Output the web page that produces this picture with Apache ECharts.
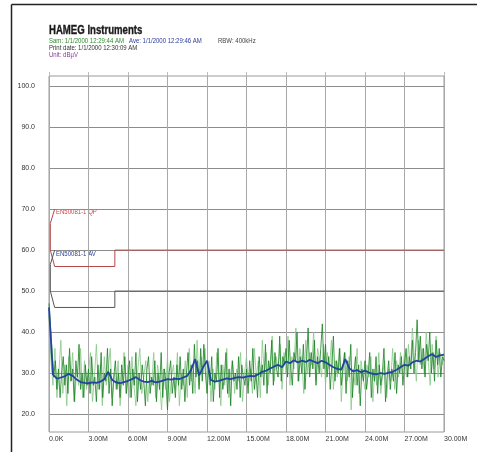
<!DOCTYPE html>
<html>
<head>
<meta charset="utf-8">
<script src="https://cdn.jsdelivr.net/npm/echarts@6/dist/echarts.min.js"></script>
<style>
html,body{margin:0;padding:0;background:#fff;}
#chart{width:477px;height:470px;}
</style>
</head>
<body>
<div id="chart"></div>
<script>
// 频率轴刻度 (MHz)
var xTicks = [0, 3, 6, 9, 12, 15, 18, 21, 24, 27, 30];
var xTickLabels = ['0.0K', '3.00M', '6.00M', '9.00M', '12.00M', '15.00M', '18.00M', '21.00M', '24.00M', '27.00M', '30.00M'];
var yTicks = [20, 30, 40, 50, 60, 70, 80, 90, 100];
var yTickLabels = ['20.0', '30.0', '40.0', '50.0', '60.0', '70.0', '80.0', '90.0', '100.0'];

// 采样迹线 (Sam), 步长 0.12 MHz
var samStep = 0.12;
var samValues = [
  47, 41, 35, 29, 33, 26, 31, 24, 30, 34, 27, 32, 25, 36, 28, 31, 23, 33, 29, 37, 26, 30, 24, 32, 27,
  31, 25, 34, 27, 29, 23, 32, 26, 35, 24, 30, 28, 36, 25, 31, 22, 29, 33, 26, 30, 24, 32, 27, 34, 25,
  29, 33, 24, 31, 27, 35, 23, 30, 26, 32, 28, 22, 31, 34, 25, 29, 27, 33, 23, 30, 26, 35, 24, 31, 28,
  21, 30, 33, 25, 29, 24, 32, 27, 34, 26, 31, 23, 30, 35, 27, 32, 25, 37, 29, 33, 26, 36, 28, 37, 30,
  25, 31, 27, 34, 23, 30, 28, 36, 24, 32, 26, 29, 35, 25, 31, 22, 33, 28, 30, 26, 34, 24, 32, 29, 27,
  31, 25, 33, 28, 36, 26, 30, 24, 34, 29, 32, 27, 37, 25, 33, 30, 38, 27, 35, 31, 29, 39, 28, 34, 32,
  36, 29, 38, 31, 27, 35, 33, 40, 28, 34, 30, 37, 26, 33, 41, 29, 35, 31, 38, 27, 34, 30, 36, 42, 31,
  37, 29, 34, 26, 32, 39, 28, 33, 30, 36, 27, 31, 35, 25, 33, 29, 37, 24, 30, 34, 27, 32, 22, 31, 28,
  33, 26, 30, 35, 24, 31, 28, 34, 25, 32, 27, 30, 36, 23, 29, 33, 26, 31, 28, 35, 25, 32, 30, 34, 27,
  32, 36, 29, 34, 31, 38, 30, 35, 43, 33, 39, 31, 36, 29, 37, 33, 40, 30, 35, 28, 38, 32, 36, 29, 34,
  33
];

// 采样迹线浅色部分, 步长 0.15 MHz
var samLightStep = 0.15;
var samLightValues = [
  44, 33, 27, 36, 24, 30, 38, 25, 32, 22, 34, 28, 35, 23, 31, 27, 36, 24, 33, 26,
  30, 35, 23, 29, 37, 26, 32, 22, 34, 27, 31, 36, 24, 30, 26, 33, 22, 29, 35, 25,
  32, 24, 34, 27, 22, 31, 36, 25, 29, 33, 23, 30, 27, 35, 24, 32, 28, 21, 31, 26,
  34, 23, 29, 32, 26, 35, 22, 30, 27, 33, 24, 36, 28, 31, 25, 38, 27, 34, 30, 36,
  27, 33, 23, 31, 26, 35, 29, 22, 32, 27, 36, 24, 30, 33, 25, 31, 28, 35, 23, 30,
  34, 27, 31, 25, 36, 29, 33, 24, 38, 30, 35, 27, 32, 39, 28, 34, 31, 37, 26, 35,
  30, 39, 27, 34, 31, 41, 28, 36, 33, 25, 38, 30, 35, 32, 40, 28, 36, 33, 29, 37,
  27, 35, 31, 38, 26, 33, 29, 36, 23, 32, 35, 28, 34, 21, 31, 27, 36, 25, 33, 29,
  26, 32, 29, 34, 23, 31, 27, 35, 25, 30, 33, 24, 31, 28, 36, 26, 33, 29, 35, 30,
  35, 29, 37, 31, 41, 34, 28, 38, 32, 36, 30, 40, 33, 27, 37, 31, 39, 29, 35, 32,
  34
];

// 平均迹线 (Ave), 步长 0.3 MHz
var aveStep = 0.3;
var aveValues = [
  46, 29.6, 28.6, 28.9, 29.2, 29.8, 29.3, 28.4, 27.8, 27.6,
  27.5, 27.7, 27.6, 27.9, 28.5, 30.3, 28.3, 27.7, 27.5, 27.8,
  28.1, 28.5, 29.0, 28.3, 27.9, 27.8, 28.1, 27.7, 27.9, 28.2,
  28.5, 28.4, 28.6, 28.5, 28.9, 29.3, 30.8, 33.4, 29.4, 31.4,
  33.0, 28.3, 27.9, 28.1, 28.4, 28.7, 28.5, 28.8, 29.0, 28.9,
  29.1, 29.3, 29.2, 29.7, 30.3, 30.6, 31.1, 31.6, 32.0, 31.4,
  32.8, 32.4, 33.1, 32.6, 33.0, 32.7, 33.2, 32.8, 32.4, 33.0,
  32.6, 32.0, 31.4, 31.0, 30.8, 33.4, 31.2, 30.4, 30.7, 30.2,
  30.6, 30.1, 29.8, 29.7, 30.0, 29.8, 30.1, 30.3, 30.8, 31.4,
  32.0, 31.8, 32.6, 33.0, 32.8, 33.4, 34.1, 34.6, 33.9, 34.3,
  34.5
];

// 限值线 EN50081-1
var qpFreq = [0.43, 0.1, 0.1, 0.43, 5, 5, 30];
var qpLevel = [70, 66.5, 60, 56, 56, 60, 60];
var avFreq = [0.43, 0.1, 0.1, 0.43, 5, 5, 30];
var avLevel = [60, 56.5, 50, 46, 46, 50, 50];

var font = "'Liberation Sans', Arial, sans-serif";

function pairs(step, vals) {
  var out = [];
  for (var i = 0; i < vals.length; i++) out.push([+(i * step).toFixed(2), vals[i]]);
  return out;
}
function zip(a, b) {
  var out = [];
  for (var i = 0; i < a.length; i++) out.push([a[i], b[i]]);
  return out;
}
// 压窄的小字
function label(x, y, text, size, color, weight, sx) {
  var st = {
    text: text, fontSize: size, fontFamily: font, fontWeight: weight || 'normal',
    fill: color, verticalAlign: 'top'
  };
  if (weight) { st.stroke = color; st.lineWidth = 0.35; }
  return { type: 'text', x: x, y: y, scaleX: sx, style: st };
}

var mychart = echarts.init(document.getElementById('chart'));
var option = {
  backgroundColor: '#fff',
  animation: false,
  grid: {
    left: 49, right: 33, top: 76, bottom: 38,
    show: true, borderColor: '#9a9a9a', borderWidth: 1
  },
  graphic: [
    // 外框
    { type: 'line', shape: { x1: 11.5, y1: 4.5, x2: 477, y2: 4.5 }, style: { stroke: '#222', lineWidth: 1.5 } },
    { type: 'line', shape: { x1: 11.5, y1: 4.5, x2: 11.5, y2: 452 }, style: { stroke: '#222', lineWidth: 1.5 } },
    // 标题信息
    label(49, 25, 'HAMEG Instruments', 12, '#1a1a1a', 'bold', 0.8),
    label(49, 38, 'Sam: 1/1/2000 12:29:44 AM', 7, '#2a8a2a', '', 0.86),
    label(129, 38, 'Ave: 1/1/2000 12:29:46 AM', 7, '#2a3a9a', '', 0.86),
    label(218, 38, 'RBW: 400kHz', 7, '#444', '', 0.86),
    label(49, 45, 'Print date: 1/1/2000 12:30:09 AM', 7, '#333', '', 0.86),
    label(49, 52, 'Unit: dB\u00b5V', 7, '#8a3a9a', '', 0.86),
    // 限值线标签
    label(56, 209, 'EN50081-1 QP', 7, '#c84848', '', 0.86),
    label(56, 251, 'EN50081-1 AV', 7, '#2a3a9a', '', 0.86)
  ],
  xAxis: [{
    type: 'value', min: 0, max: 30, interval: 3,
    axisLine: { show: false },
    axisTick: { show: false },
    splitLine: { show: true, lineStyle: { color: '#a8a8a8', width: 1 } },
    axisLabel: {
      align: 'left', margin: 4, fontSize: 7, fontFamily: font, color: '#333',
      formatter: function (v) { return xTickLabels[xTicks.indexOf(v)]; }
    }
  }, {
    type: 'value', min: 0, max: 30, interval: 3, position: 'top',
    axisLine: { show: false },
    axisTick: { show: true, length: 4, lineStyle: { color: '#bbb' } },
    axisLabel: { show: false },
    splitLine: { show: false }
  }],
  yAxis: {
    type: 'value', min: 15.6, max: 102.5,
    axisLine: { show: false },
    axisTick: { show: false, customValues: yTicks },
    splitLine: { show: true, lineStyle: { color: '#8c8c8c', width: 1 } },
    axisLabel: {
      customValues: yTicks, margin: 14, fontSize: 7, fontFamily: font, color: '#333',
      padding: [8, 0, 0, 0],
      formatter: function (v) { return yTickLabels[yTicks.indexOf(v)]; }
    }
  },
  series: [{
    name: 'QP', type: 'line', data: zip(qpFreq, qpLevel), showSymbol: false,
    lineStyle: { color: '#b44848', width: 1 }, z: 3
  }, {
    name: 'AV', type: 'line', data: zip(avFreq, avLevel), showSymbol: false,
    lineStyle: { color: '#555', width: 1 }, z: 3
  }, {
    name: 'SamLight', type: 'line', data: pairs(samLightStep, samLightValues), showSymbol: false,
    lineStyle: { color: '#86c886', width: 0.8 }, z: 4
  }, {
    name: 'Sam', type: 'line', data: pairs(samStep, samValues), showSymbol: false,
    lineStyle: { color: '#17801f', width: 0.8 }, z: 4
  }, {
    name: 'Ave', type: 'line', data: pairs(aveStep, aveValues), showSymbol: false,
    lineStyle: { color: '#2244a0', width: 1.8 }, z: 5
  }]
};
mychart.setOption(option);
</script>
</body>
</html>
